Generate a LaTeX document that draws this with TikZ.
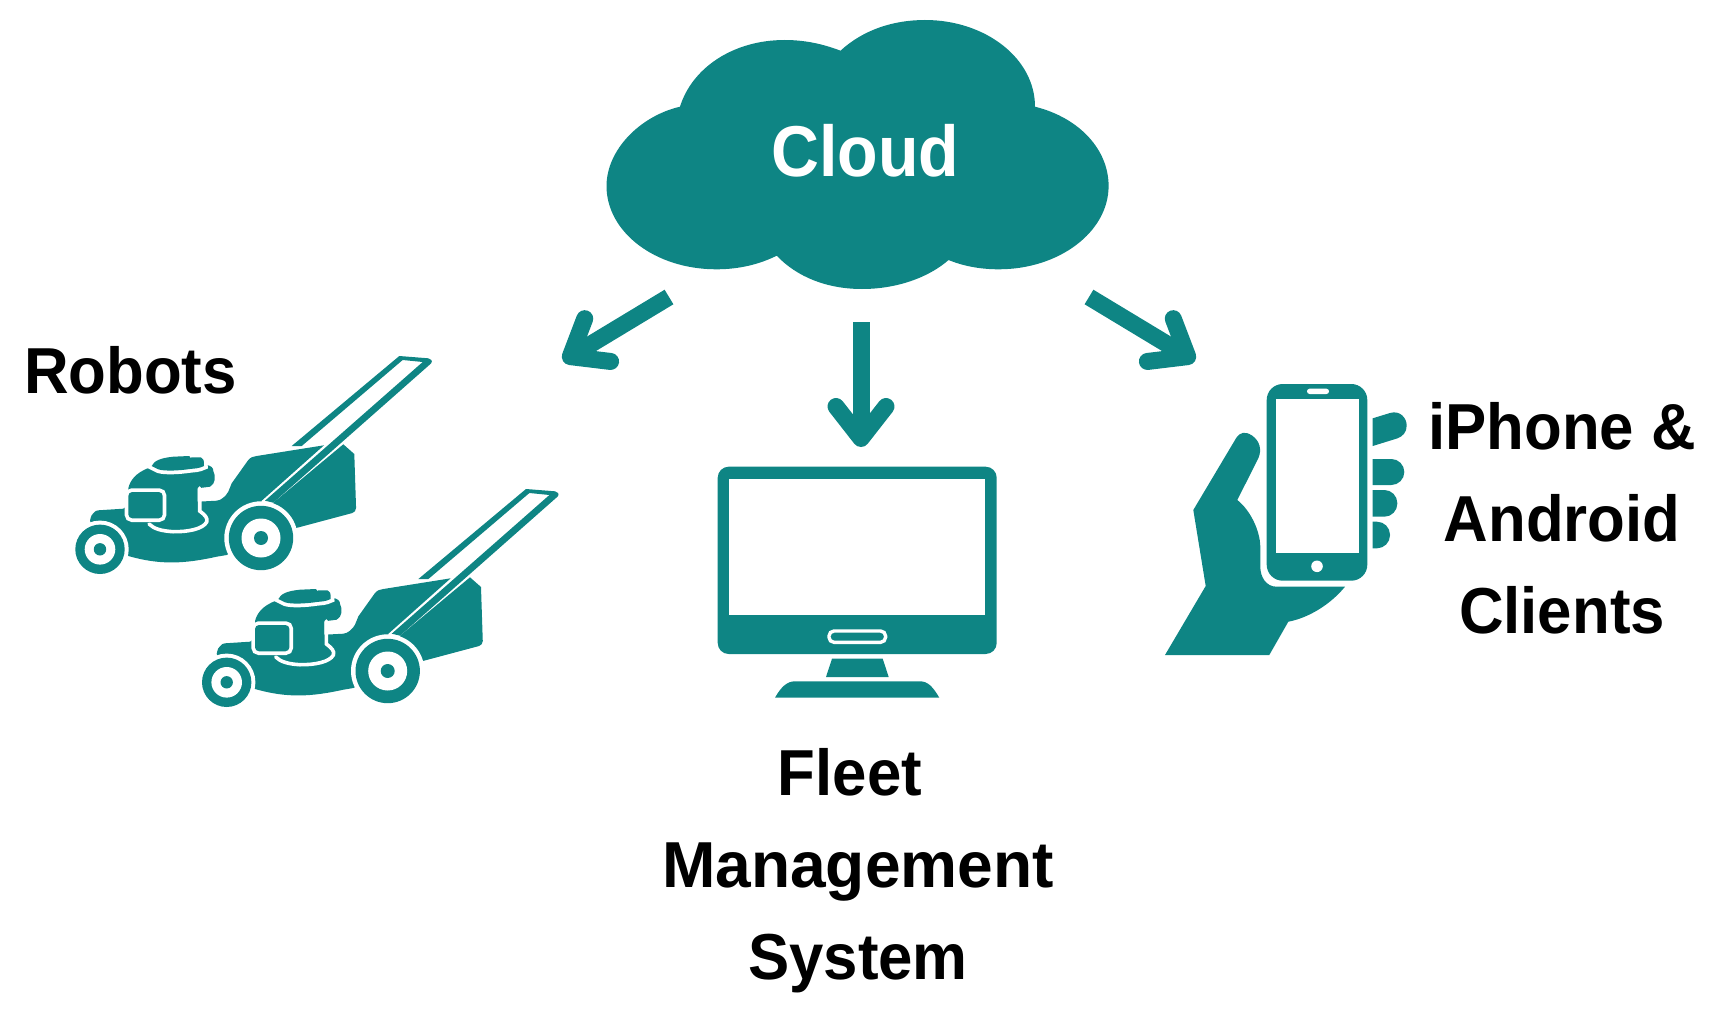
\documentclass[tikz,border=0pt]{standalone}
\usepackage{fontspec}
\usepackage{graphicx}
\setmainfont[FakeStretch=0.95]{Liberation Sans}
\usetikzlibrary{arrows.meta}
\definecolor{tealmain}{HTML}{0E8584}
\tikzset{
  teal fill/.style={fill=tealmain,draw=none},
  halo/.style={preaction={draw=white,line width=#1},fill=tealmain},
  halo/.default=7.5pt,
  blank/.style={fill=white,draw=none},
  flowarrow/.style={draw=tealmain,line width=17pt,
    -{Straight Barb[round,length=32pt,width=50pt]}},
  biglabel/.style={font=\bfseries\fontsize{65}{92}\selectfont,text=black,inner sep=0pt,align=center},
  mower/.pic={
    % grass catcher
    \fill[teal fill] (273.3,502.7) -- (343.3,444.3) -- (354.3,454)
      [rounded corners=4pt] -- (356.2,512) [sharp corners] -- (297.3,527.7) -- (280,530) -- cycle;
    % engine, chassis, deck
    \fill[teal fill] (90,520.7) .. controls (91,516) and (92,514) .. (93.3,513.3)
      .. controls (95,511) and (96.5,510.5) .. (98.3,510.3) -- (123.3,508.7) -- (128.3,505) -- (128.3,488.3)
      .. controls (130,481) and (135,473) .. (149.3,467.7) -- (205,465)
      .. controls (211,465) and (213.5,468) .. (213.3,471) .. controls (216,476) and (215.5,484) .. (210,486.7)
      -- (197.7,488.3) -- (197.7,501.7) -- (216.7,500.7) .. controls (221,500.5) and (226,496) .. (228.3,491.7)
      -- (231.7,483.3) -- (248.3,460) .. controls (251,457) and (253,456.6) .. (256.7,456) -- (324,445.3)
      -- (261.7,500.7) -- (261,538) -- (226.7,555) -- (216.7,556.7)
      .. controls (183.3,564) and (160,565) .. (128.3,556) -- (100,549.3) -- cycle;
    % white band under the engine
    \draw[white,line width=3.6pt,line cap=round] (199.7,488) -- (199.7,511)
      .. controls (205,515) and (208,518) .. (206.7,522)
      .. controls (203,529) and (188,532) .. (173,531.7)
      .. controls (162,531) and (154,529) .. (149,524);
    % air filter box
    \path[halo,rounded corners=4pt] (128.3,492) rectangle (162.7,518.3);
    % fuel cap
    \path[halo] (151.7,466) .. controls (154,461) and (160,458) .. (173.3,456.7)
      -- (189.3,456) -- (190.5,458) -- (191.7,457.3) -- (201,457.5) .. controls (203.5,458) and (204,460) .. (204,466)
      .. controls (202,467) and (199,468) .. (196.7,468.3) -- (190,469) .. controls (180,470.5) and (165,471.5) .. (158.3,469.3) -- cycle;
    % handle
    \fill[teal fill] (291.7,446) -- (399.3,356) -- (428.3,358.3)
      .. controls (431,358.5) and (433,361) .. (431,363.5)
      -- (273.3,502.7) -- (265,500.7) -- (422.7,362) -- (402.7,360) -- (301.7,446) -- cycle;
    % wheels
    \path[halo=8pt] (100,549.3) circle[radius=24.7pt];
    \fill[blank] (100,549.3) circle[radius=15.3pt];
    \fill[teal fill] (100,549.3) circle[radius=6.2pt];
    \path[halo=9pt] (261,538) circle[radius=32.2pt];
    \fill[blank] (261,538) circle[radius=19.5pt];
    \fill[teal fill] (261,538) circle[radius=7pt];
  }
}
\begin{document}
\begin{tikzpicture}[x=1pt,y=-1pt]
\useasboundingbox (0,0) rectangle (1724,1011);
% cloud
\fill[teal fill] (840.5,50.7)
  .. controls (863,30) and (893,20) .. (925,20)
  .. controls (985,20) and (1035,58) .. (1035,106.7)
  .. controls (1080,118) and (1108.6,150) .. (1108.6,186)
  .. controls (1108.6,232) and (1059,269.3) .. (998.8,269.3)
  .. controls (980,269.3) and (963,266) .. (948.6,260)
  .. controls (928,278) and (896,289) .. (862,289)
  .. controls (827,289) and (797,277) .. (776.7,255.7)
  .. controls (760,264) and (740,269.3) .. (716.3,269.3)
  .. controls (655,269.3) and (606.5,232) .. (606.5,186)
  .. controls (606.5,150) and (640,116) .. (680,106.7)
  .. controls (692,68) and (733,40) .. (784.7,40)
  .. controls (805,40) and (823,44) .. (840.5,50.7) -- cycle;
\node[anchor=base,inner sep=0pt,text=white,font=\bfseries\fontsize{72}{80}\selectfont] (cloud) at (865.5,177) {\scalebox{0.97}[1]{Cloud}};
% arrows
\coordinate (cloudL) at (669,297);
\coordinate (cloudM) at (861,322);
\coordinate (cloudR) at (1089,297);
\coordinate (robotsIn) at (563,361);
\coordinate (fleetIn) at (861,447);
\coordinate (clientsIn) at (1195,361);
\draw[flowarrow] (cloudL) -- (robotsIn);
\draw[flowarrow] (cloudM) -- (fleetIn);
\draw[flowarrow] (cloudR) -- (clientsIn);
% mowers
\pic at (0,0) {mower};
\pic at (126.7,133) {mower};
\node[biglabel,anchor=base] (robots) at (130.5,393) {Robots};
% monitor
\fill[teal fill,rounded corners=11pt] (717.7,466.7) rectangle (996.7,654);
\fill[blank] (729.3,478.7) rectangle (985.3,615.3);
\draw[white,line width=3.4pt,rounded corners=5pt] (829,631) rectangle (885.6,642.3);
\fill[teal fill] (832,658.7) -- (882.7,658.7) -- (888.7,677) -- (826,677) -- cycle;
\fill[teal fill] (775,697.7) .. controls (781,687) and (787,681.3) .. (795,681.3) -- (920,681.3)
  .. controls (928,681.3) and (933,687) .. (939.3,697.7) -- cycle;
\node[biglabel] (fleet) at (858,870.5) {Fleet\hspace*{16pt}\\\scalebox{1.038}[1]{Management}\\System};
% hand
\fill[teal fill] (1165,655) -- (1269.3,655) -- (1288.3,621.7) .. controls (1308,618) and (1330,605) .. (1345,586.7)
  -- (1276.7,586.7) .. controls (1266,586.7) and (1260.3,577) .. (1260.3,566.7) -- (1260.3,546.7)
  .. controls (1260,530) and (1250,510) .. (1237.3,500) -- (1258.3,458.3)
  .. controls (1262,450) and (1260,441) .. (1252,435.5) .. controls (1245,431) and (1240,432) .. (1236,438.3)
  -- (1193.3,510) -- (1205.7,586) -- cycle;
% phone
\fill[teal fill,rounded corners=16pt] (1266.7,384) rectangle (1367.3,580.7);
\fill[blank] (1275.7,399.3) rectangle (1359.3,552.7);
\fill[blank,rounded corners=2.6pt] (1307,388.7) rectangle (1329,394);
\fill[blank] (1317,566.3) circle[radius=5.8pt];
% fingers
\fill[teal fill] (1372.7,418.3) -- (1390,413) .. controls (1400,410) and (1406.7,418) .. (1406.7,425.5)
  .. controls (1406.7,432) and (1403,436.5) .. (1397,438.5) -- (1372.7,446) -- cycle;
\fill[teal fill] (1372.7,459) [rounded corners=13pt] -- (1404.3,459) -- (1404.3,485) [sharp corners] -- (1372.7,485) -- cycle;
\fill[teal fill] (1372.7,490) [rounded corners=13pt] -- (1397.3,490) -- (1397.3,516.7) [sharp corners] -- (1372.7,516.7) -- cycle;
\fill[teal fill] (1372.7,521.7) [rounded corners=13pt] -- (1390,521.7) -- (1390,548.3) [sharp corners] -- (1372.7,548.3) -- cycle;
\node[biglabel] (clients) at (1562,518) {iPhone \&\\Android\\Clients};
\end{tikzpicture}
\end{document}
